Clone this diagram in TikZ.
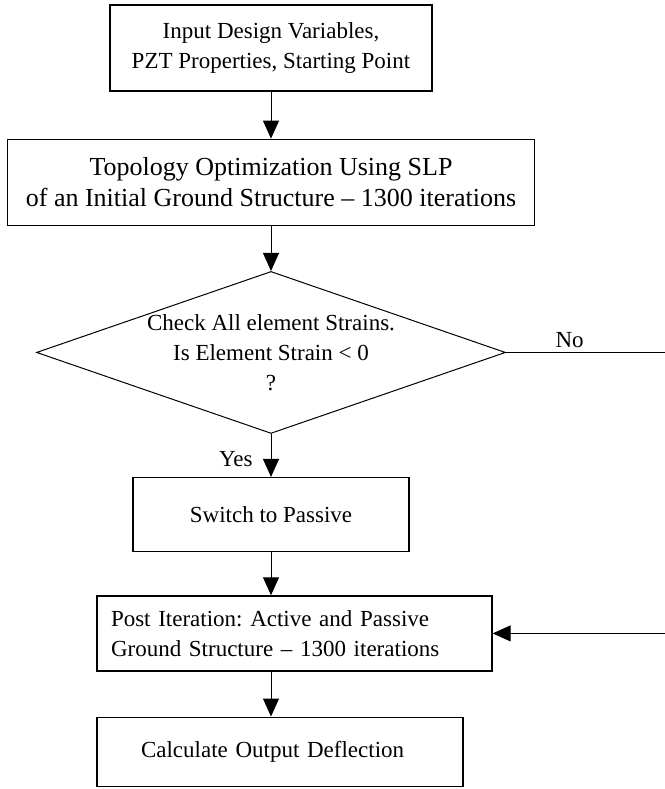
\documentclass[tikz,border=0pt]{standalone}
\usepackage{fontspec}
\setmainfont{Liberation Serif}
\frenchspacing
\usetikzlibrary{arrows.meta,shapes.geometric,positioning}

\begin{document}
\begin{tikzpicture}[
    x = 1pt, y = -1pt, % pixel-like units, y downwards
    > = {Triangle[width=16pt,length=18pt]}, % arrow head style
    font = \fontsize{23}{30}\selectfont,
    line width = 1pt % line style
    ]

    \tikzset{
    block/.style = {draw = black, line width = 1.3pt, fill = white,
        align = center, inner sep = 0pt},
    decision/.style = {diamond, draw = black, line width = 1pt,
        minimum width = 469pt, minimum height = 162pt, inner sep = 0pt},
    lbl/.style = {inner sep = 0pt}
    }
    \useasboundingbox (0,0) rectangle (664,789);

    \node[block, minimum width=322pt, minimum height=86pt] (input) at (271,48)
        {Input Design Variables,\\PZT Properties, Starting Point};
    \node[block, minimum width=527pt, minimum height=86pt,
        font=\fontsize{26}{31}\selectfont] (topo) [below=47pt of input]
        {Topology Optimization Using SLP\\of an Initial Ground Structure -- 1300 iterations};
    \node[decision] (check) [below=45pt of topo] {};
    \node[align=center, inner sep=0pt] (checktxt) at (check)
        {Check All element Strains.\\Is Element Strain < 0\\?};
    \node[block, minimum width=276pt, minimum height=74pt] (passive) [below=43pt of check]
        {Switch to Passive};
    \node[block, align=left, text width=367pt, inner xsep=14pt,
        minimum height=75pt] (post) [below=43pt of passive, xshift=23.5pt]
        {Post Iteration: Active and Passive\\Ground Structure -- 1300 iterations};
    \node[block, align=left, text width=278pt, inner xsep=44pt,
        minimum height=69pt] (calc) [below=45pt of post, xshift=-14.5pt]
        {Calculate Output Deflection};

    \coordinate[right=159pt of check.east] (noend);
    \coordinate (backstart) at (post.east -| noend);

    \draw[->] (input) -- (topo);
    \draw[->] (topo) -- (check);
    \draw[->] (check) -- node[lbl, pos=0.58, left=18pt] {Yes} (passive);
    \draw[->] (passive) -- (passive |- post.north);
    \draw[->] (passive |- post.south) -- (passive |- calc.north);
    \draw (check.east) -- node[lbl, pos=0.4, above=4pt] {No} (noend);
    \draw[->] (backstart) -- (post.east);
\end{tikzpicture}
\end{document}
